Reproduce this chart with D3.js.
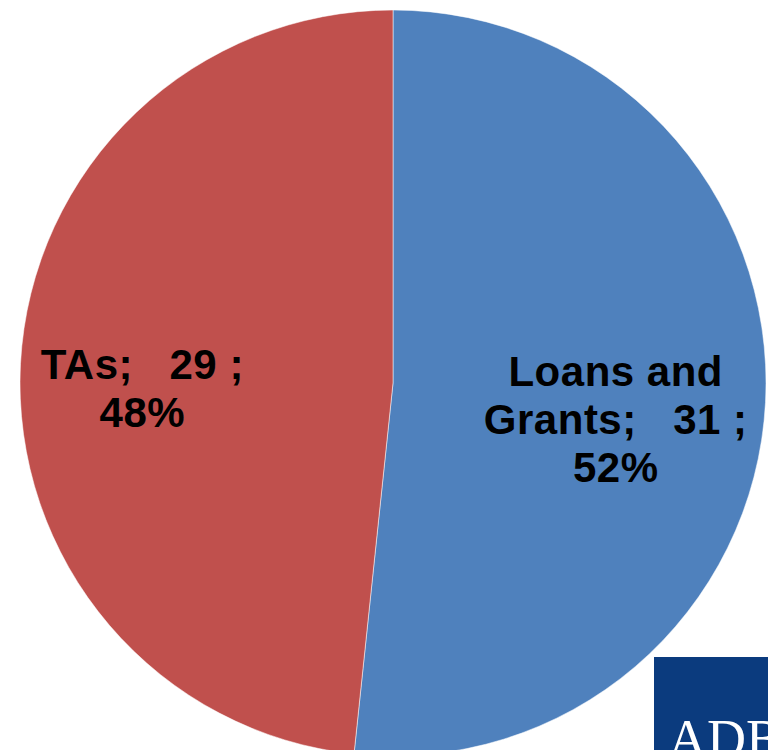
<!DOCTYPE html>
<html>
<head>
<meta charset="utf-8">
<script src="https://cdn.jsdelivr.net/npm/d3@7"></script>
<style>
  body { margin: 0; background: #fff; }
  svg { display: block; }
</style>
</head>
<body>
<script>
// data
var categories = ["Loans and Grants", "TAs"];
var values = [31, 29];
var percents = ["52%", "48%"];
var labelLines = [["Loans and", "Grants;   31 ;", "52%"], ["TAs;   29 ;", "48%"]];
var colors = ["#4F81BD", "#C0504D"];

var width = 768, height = 750;
var cx = 393, cy = 383, radius = 373;

var svg = d3.select("body").append("svg")
    .attr("width", width)
    .attr("height", height);

var g = svg.append("g")
    .attr("transform", "translate(" + cx + "," + cy + ")");

var pie = d3.pie().sort(null).value(function(d) { return d; });
var arc = d3.arc().innerRadius(0).outerRadius(radius);

var arcs = pie(values);

g.selectAll("path.slice")
    .data(arcs)
  .enter().append("path")
    .attr("class", "slice")
    .attr("d", arc)
    .attr("fill", function(d, i) { return colors[i]; })
    .attr("stroke", "#ffffff")
    .attr("stroke-opacity", 0.5)
    .attr("stroke-width", 1);

// label placement: distance from centre (fraction of radius) and a vertical nudge
var labelR = [0.598, 0.673];
var labelDy = [39, 33];
var lineH = 48;

g.selectAll("text.lbl")
    .data(arcs)
  .enter().append("text")
    .attr("class", "lbl")
    .attr("text-anchor", "middle")
    .style("font-family", "Liberation Sans, Arial, sans-serif")
    .style("font-weight", "bold")
    .style("font-size", "42px")
    .style("letter-spacing", "0.5px")
    .style("white-space", "pre")
    .attr("fill", "#000")
    .each(function(d, i) {
      var r = radius * labelR[i];
      var c = d3.arc().innerRadius(r).outerRadius(r).centroid(d);
      var lines = labelLines[i];
      var t = d3.select(this);
      var y0 = c[1] - (lines.length - 1) * lineH / 2 + labelDy[i];
      lines.forEach(function(s, j) {
        t.append("tspan")
          .attr("x", c[0])
          .attr("y", y0 + j * lineH)
          .text(s);
      });
    });

// ADB logo corner
svg.append("rect")
    .attr("x", 654)
    .attr("y", 657)
    .attr("width", 120)
    .attr("height", 100)
    .attr("fill", "#0B3B7E");

svg.append("text")
    .attr("x", 668)
    .attr("y", 757)
    .style("font-family", "Liberation Serif, Times New Roman, serif")
    .style("font-size", "54px")
    .attr("fill", "#ffffff")
    .text("ADB");
</script>
</body>
</html>
